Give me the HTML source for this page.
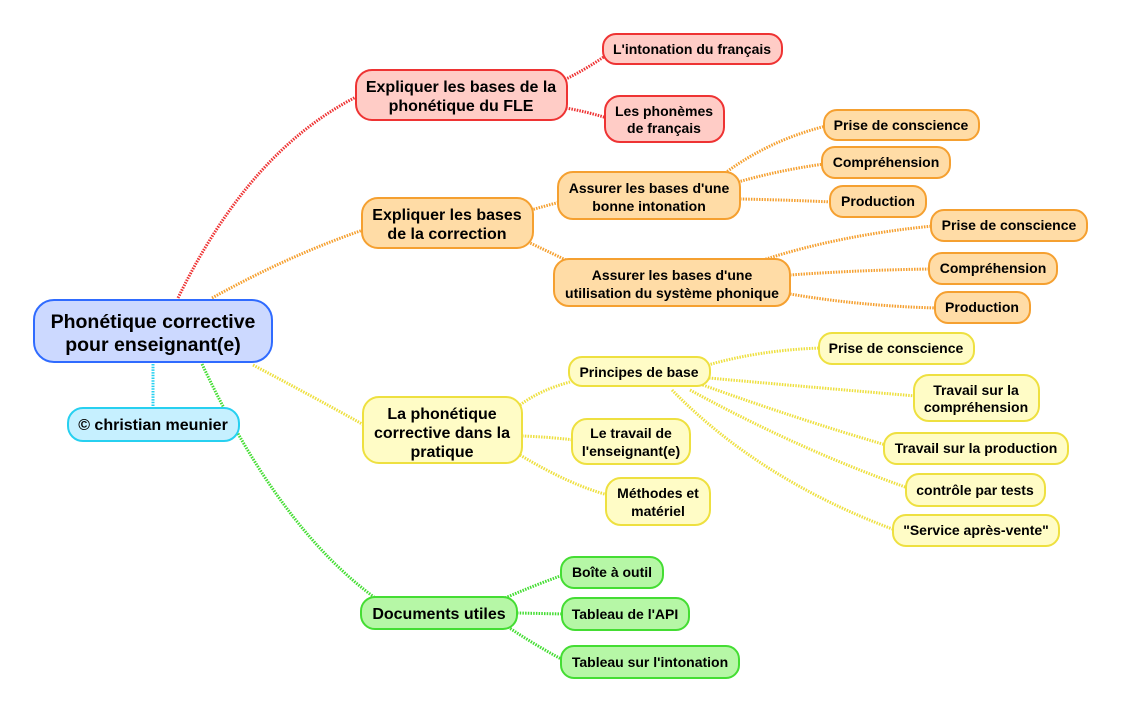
<!DOCTYPE html>
<html><head><meta charset="utf-8"><style>
body{margin:0;background:#fff}
svg text{font-family:"Liberation Sans",sans-serif;font-weight:bold;fill:#000;text-anchor:middle}
.l{fill:none;stroke-width:3;stroke-dasharray:1.5 1.2}
</style></head><body>
<svg width="1122" height="712" viewBox="0 0 1122 712" xmlns="http://www.w3.org/2000/svg">
<g class="l" stroke="#ee3333">
<path d="M178 298 Q250 150 358 96"/>
<path d="M560 82 Q585 70 605 56"/>
<path d="M566 108 Q588 112 607 118"/>
</g>
<g class="l" stroke="#f5a030">
<path d="M212 298 Q290 255 363 230"/>
<path d="M531 210 Q545 206 560 202"/>
<path d="M528 242 Q545 250 570 262"/>
<path d="M725 173 Q770 140 826 126"/>
<path d="M738 182 Q780 170 824 164"/>
<path d="M740 199 Q790 200 832 202"/>
<path d="M763 260 Q840 235 933 226"/>
<path d="M790 275 Q860 270 931 269"/>
<path d="M790 294 Q860 306 937 308"/>
</g>
<g class="l" stroke="#eee040">
<path d="M253 365 Q310 395 364 425"/>
<path d="M520 405 Q540 390 570 382"/>
<path d="M522 436 Q550 437 574 440"/>
<path d="M520 455 Q570 485 608 495"/>
<path d="M708 365 Q760 350 821 348"/>
<path d="M709 378 Q820 388 916 396"/>
<path d="M700 384 Q800 420 886 445"/>
<path d="M690 390 Q800 450 908 488"/>
<path d="M672 390 Q760 480 895 530"/>
</g>
<g class="l" stroke="#44dd33">
<path d="M202 364 Q280 530 378 600"/>
<path d="M505 598 Q535 585 563 575"/>
<path d="M517 613 L564 614"/>
<path d="M508 627 Q535 645 563 660"/>
</g>
<path class="l" stroke="#27d0f0" d="M153 364 L153 408"/>

<g stroke-width="2">
<rect x="34" y="300" width="238" height="62" rx="20" fill="#ccd9ff" stroke="#2f6bff"/>
<rect x="68" y="408" width="171" height="33" rx="15" fill="#c6f0ff" stroke="#27d0f0"/>
<g fill="#ffccc6" stroke="#ee3333">
<rect x="356" y="70" width="211" height="50" rx="16"/>
<rect x="603" y="34" width="179" height="30" rx="13"/>
<rect x="605" y="96" width="119" height="46" rx="15"/>
</g>
<g fill="#ffdca6" stroke="#f5a030">
<rect x="362" y="198" width="171" height="50" rx="16"/>
<rect x="558" y="172" width="182" height="47" rx="15"/>
<rect x="554" y="259" width="236" height="47" rx="15"/>
<rect x="824" y="110" width="155" height="30" rx="13"/>
<rect x="822" y="147" width="128" height="31" rx="13"/>
<rect x="830" y="186" width="96" height="31" rx="13"/>
<rect x="931" y="210" width="156" height="31" rx="13"/>
<rect x="929" y="253" width="128" height="31" rx="13"/>
<rect x="935" y="292" width="95" height="31" rx="13"/>
</g>
<g fill="#fffcc6" stroke="#eee040">
<rect x="363" y="397" width="159" height="66" rx="16"/>
<rect x="569" y="357" width="141" height="29" rx="13"/>
<rect x="572" y="419" width="118" height="45" rx="15"/>
<rect x="606" y="478" width="104" height="47" rx="15"/>
<rect x="819" y="333" width="155" height="31" rx="13"/>
<rect x="914" y="375" width="125" height="46" rx="15"/>
<rect x="884" y="433" width="184" height="31" rx="13"/>
<rect x="906" y="474" width="139" height="32" rx="13"/>
<rect x="893" y="515" width="166" height="31" rx="13"/>
</g>
<g fill="#b6f7a6" stroke="#44dd33">
<rect x="361" y="597" width="156" height="32" rx="14"/>
<rect x="561" y="557" width="102" height="31" rx="13"/>
<rect x="562" y="598" width="127" height="32" rx="13"/>
<rect x="561" y="646" width="178" height="32" rx="13"/>
</g>
</g>

<g font-size="19.5"><text x="153" y="328">Phonétique corrective</text><text x="153" y="351">pour enseignant(e)</text></g>
<text x="153" y="430" font-size="16">© christian meunier</text>
<g font-size="16">
<text x="461" y="92">Expliquer les bases de la</text><text x="461" y="111">phonétique du FLE</text>
<text x="447" y="220">Expliquer les bases</text><text x="447" y="239">de la correction</text>
<text x="442" y="419">La phonétique</text><text x="442" y="438">corrective dans la</text><text x="442" y="457">pratique</text>
<text x="439" y="619">Documents utiles</text>
</g>
<g font-size="14">
<text x="692" y="54">L'intonation du français</text>
<text x="664" y="116">Les phonèmes</text><text x="664" y="133">de français</text>
<text x="649" y="193">Assurer les bases d'une</text><text x="649" y="211">bonne intonation</text>
<text x="672" y="280">Assurer les bases d'une</text><text x="672" y="298">utilisation du système phonique</text>
<text x="901" y="130">Prise de conscience</text>
<text x="886" y="167">Compréhension</text>
<text x="878" y="206">Production</text>
<text x="1009" y="230">Prise de conscience</text>
<text x="993" y="273">Compréhension</text>
<text x="982" y="312">Production</text>
<text x="639" y="377">Principes de base</text>
<text x="631" y="438">Le travail de</text><text x="631" y="456">l'enseignant(e)</text>
<text x="658" y="498">Méthodes et</text><text x="658" y="516">matériel</text>
<text x="896" y="353">Prise de conscience</text>
<text x="976" y="395">Travail sur la</text><text x="976" y="412">compréhension</text>
<text x="976" y="453">Travail sur la production</text>
<text x="975" y="495">contrôle par tests</text>
<text x="976" y="535">"Service après-vente"</text>
<text x="612" y="577">Boîte à outil</text>
<text x="625" y="619">Tableau de l'API</text>
<text x="650" y="667">Tableau sur l'intonation</text>
</g>
</svg>
</body></html>
